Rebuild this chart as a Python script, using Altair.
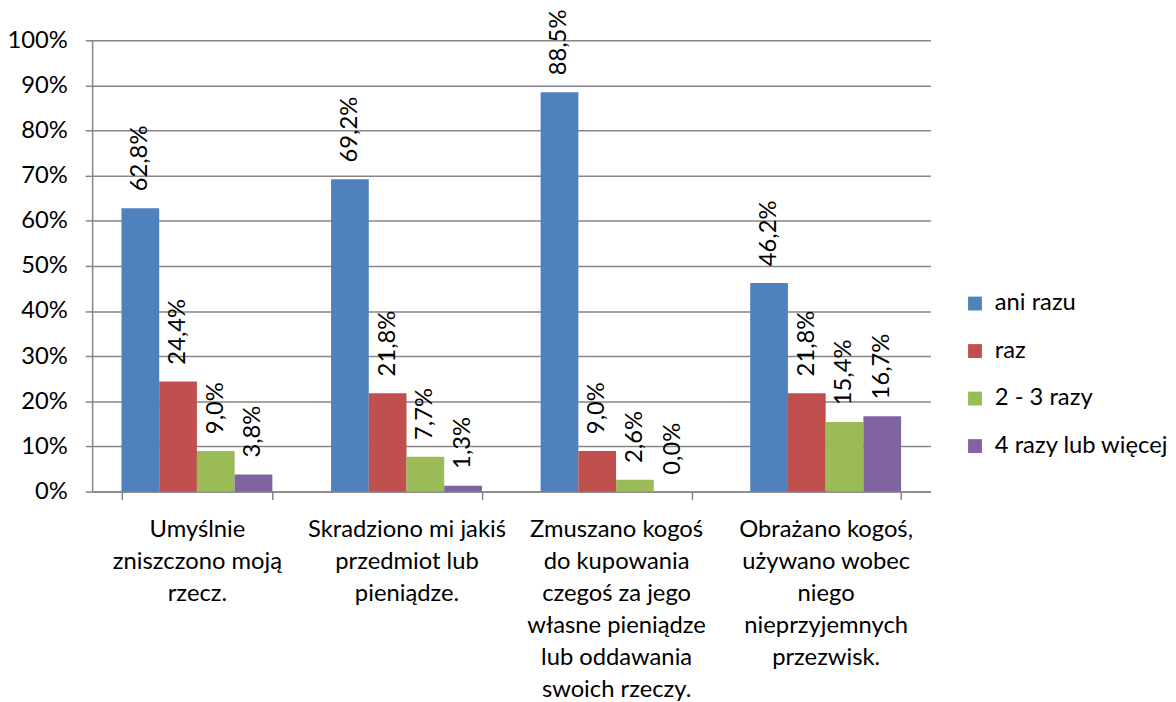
import altair as alt
import pandas as pd

categories = [
    "Umyślnie\nzniszczono moją\nrzecz.",
    "Skradziono mi jakiś\nprzedmiot lub\npieniądze.",
    "Zmuszano kogoś\ndo kupowania\nczegoś za jego\nwłasne pieniądze\nlub oddawania\nswoich rzeczy.",
    "Obrażano kogoś,\nużywano wobec\nniego\nnieprzyjemnych\nprzezwisk.",
]
series = ["ani razu", "raz", "2 - 3 razy", "4 razy lub więcej"]
colors = ["#4F81BD", "#C0504D", "#9BBB59", "#8064A2"]

ani_razu = [62.8, 69.2, 88.5, 46.2]
raz = [24.4, 21.8, 9.0, 21.8]
dwa_trzy = [9.0, 7.7, 2.6, 15.4]
cztery = [3.8, 1.3, 0.0, 16.7]

values = [ani_razu, raz, dwa_trzy, cztery]
rows = []
for s, vals in zip(series, values):
    for c, v in zip(categories, vals):
        rows.append({"cat": c, "series": s, "value": v})
df = pd.DataFrame(rows)

FONT = "Lato"

x = alt.X(
    "cat:N",
    sort=categories,
    scale=alt.Scale(paddingInner=0.28, paddingOuter=0.14),
    axis=alt.Axis(
        title=None,
        labelAngle=0,
        labelExpr="split(datum.label, '\\n')",
        labelFontSize=24,
        labelLineHeight=32.4,
        labelColor="#000000",
        labelPadding=18,
        labelBaseline="top",
        labelLimit=0,
        tickBand="extent",
        tickSize=8,
        tickColor="#868686",
        tickWidth=1.5,
        domainColor="#868686",
        domainWidth=1.5,
        grid=False,
    ),
)
xo = alt.XOffset("series:N", sort=series, scale=alt.Scale(paddingInner=0, paddingOuter=0))
y = alt.Y(
    "value:Q",
    scale=alt.Scale(domain=[0, 100], nice=False),
    axis=alt.Axis(
        title=None,
        values=list(range(0, 101, 10)),
        labelExpr="datum.value + '%'",
        labelFontSize=24,
        labelColor="#000000",
        labelPadding=18,
        tickSize=7,
        tickColor="#868686",
        tickWidth=1.5,
        gridColor="#868686",
        gridWidth=1.5,
        domainColor="#868686",
        domainWidth=1.5,
    ),
)

color = alt.Color(
    "series:N",
    sort=series,
    scale=alt.Scale(domain=series, range=colors),
    legend=alt.Legend(
        title=None,
        orient="none",
        legendX=880,
        legendY=254,
        symbolType="square",
        symbolSize=196,
        symbolStrokeWidth=0,
        symbolOpacity=1,
        labelFontSize=24,
        labelColor="#000000",
        labelOffset=8,
        rowPadding=24,
        labelLimit=0,
    ),
)

bars = alt.Chart(df).mark_bar(opacity=1).encode(x=x, xOffset=xo, y=y, color=color)

labels = (
    alt.Chart(df)
    .transform_calculate(lab="replace(format(datum.value, '.1f'), '.', ',') + '%'")
    .mark_text(angle=270, align="left", baseline="middle", dx=17, fontSize=24, color="#000000", font=FONT)
    .encode(x=alt.X("cat:N", sort=categories), xOffset=alt.XOffset("series:N", sort=series), y="value:Q", text="lab:N")
)

chart = (
    alt.layer(bars, labels)
    .properties(
        width=847,
        height=456,
        autosize=alt.AutoSizeParams(type="none"),
        padding={"left": 85, "top": 29, "right": 240, "bottom": 210},
    )
    .configure(font=FONT)
    .configure_view(stroke=None)
)

chart.save("out.html", embed_options={"renderer": "svg", "actions": False})
